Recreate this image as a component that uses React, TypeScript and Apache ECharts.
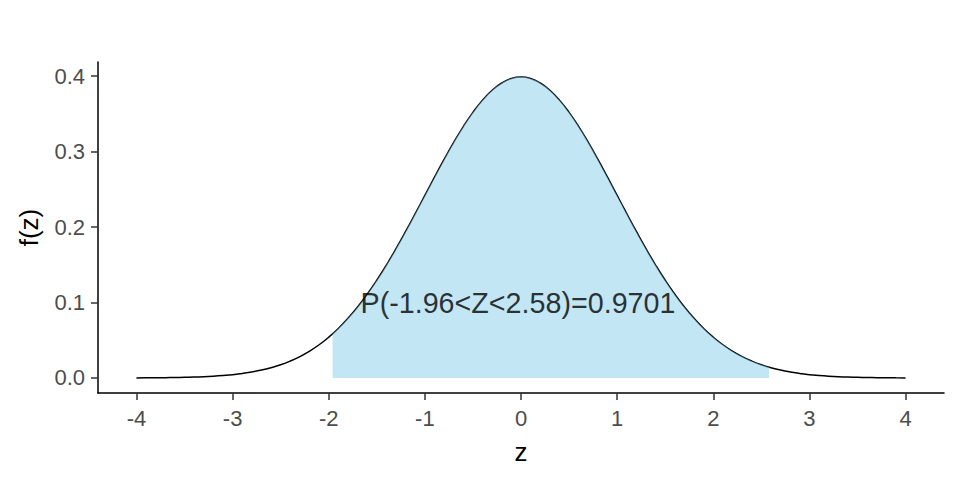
import React, { useEffect, useRef } from "react";
import * as echarts from "echarts";

// Density curve f(z) read at z = -4, -3.9, ..., 4
const zValues: number[] = [
  -4, -3.9, -3.8, -3.7, -3.6, -3.5, -3.4, -3.3, -3.2, -3.1,
  -3, -2.9, -2.8, -2.7, -2.6, -2.5, -2.4, -2.3, -2.2, -2.1,
  -2, -1.9, -1.8, -1.7, -1.6, -1.5, -1.4, -1.3, -1.2, -1.1,
  -1, -0.9, -0.8, -0.7, -0.6, -0.5, -0.4, -0.3, -0.2, -0.1,
  0, 0.1, 0.2, 0.3, 0.4, 0.5, 0.6, 0.7, 0.8, 0.9,
  1, 1.1, 1.2, 1.3, 1.4, 1.5, 1.6, 1.7, 1.8, 1.9,
  2, 2.1, 2.2, 2.3, 2.4, 2.5, 2.6, 2.7, 2.8, 2.9,
  3, 3.1, 3.2, 3.3, 3.4, 3.5, 3.6, 3.7, 3.8, 3.9, 4,
];
const fValues: number[] = [
  0.0001, 0.0002, 0.0003, 0.0004, 0.0006, 0.0009, 0.0012, 0.0017, 0.0024, 0.0033,
  0.0044, 0.006, 0.0079, 0.0104, 0.0136, 0.0175, 0.0224, 0.0283, 0.0355, 0.044,
  0.054, 0.0656, 0.079, 0.094, 0.1109, 0.1295, 0.1497, 0.1714, 0.1942, 0.2179,
  0.242, 0.2661, 0.2897, 0.3123, 0.3332, 0.3521, 0.3683, 0.3814, 0.391, 0.397,
  0.3989, 0.397, 0.391, 0.3814, 0.3683, 0.3521, 0.3332, 0.3123, 0.2897, 0.2661,
  0.242, 0.2179, 0.1942, 0.1714, 0.1497, 0.1295, 0.1109, 0.094, 0.079, 0.0656,
  0.054, 0.044, 0.0355, 0.0283, 0.0224, 0.0175, 0.0136, 0.0104, 0.0079, 0.006,
  0.0044, 0.0033, 0.0024, 0.0017, 0.0012, 0.0009, 0.0006, 0.0004, 0.0003, 0.0002, 0.0001,
];

// Shaded region bounds and their densities
const lowerZ = -1.96;
const upperZ = 2.58;
const fLower = 0.0584;
const fUpper = 0.0143;

const xTicks: number[] = [-4, -3, -2, -1, 0, 1, 2, 3, 4];
const yTicks: number[] = [0, 0.1, 0.2, 0.3, 0.4];

const annotationText = "P(-1.96<Z<2.58)=0.9701";
const annotationPos: [number, number] = [0, 0.1];

const FONT = "'Liberation Sans', Arial, sans-serif";

export default function App() {
  const ref = useRef<HTMLDivElement>(null);
  useEffect(() => {
    if (!ref.current) return;
    const chart = echarts.init(ref.current, undefined, { renderer: "svg" });
    const curve = zValues.map((z, i) => [z, fValues[i]]);
    const shade: number[][] = [[lowerZ, fLower]];
    zValues.forEach((z, i) => {
      if (z > lowerZ && z < upperZ) shade.push([z, fValues[i]]);
    });
    shade.push([upperZ, fUpper]);

    chart.setOption({
      animation: false,
      backgroundColor: "#ffffff",
      grid: { left: 86, right: 8, top: 54, bottom: 79, containLabel: false },
      xAxis: {
        type: "value",
        min: -4.4,
        max: 4.4,
        name: "z",
        nameLocation: "middle",
        nameGap: 46,
        nameTextStyle: { color: "#000", fontSize: 26, fontFamily: FONT },
        splitLine: { show: false },
        axisLine: { show: true, onZero: false, lineStyle: { color: "#000", width: 1.5 } },
        axisTick: { show: true, length: 7, customValues: xTicks, lineStyle: { color: "#333", width: 1.5 } },
        axisLabel: {
          customValues: xTicks,
          color: "#4D4D4D",
          fontSize: 22,
          fontFamily: FONT,
          margin: 14,
          formatter: (v: number) => String(v),
        },
      },
      yAxis: {
        type: "value",
        min: -0.01995,
        max: 0.41885,
        name: "f(z)",
        nameLocation: "middle",
        nameGap: 56,
        nameTextStyle: { color: "#000", fontSize: 26, fontFamily: FONT },
        splitLine: { show: false },
        axisLine: { show: true, onZero: false, lineStyle: { color: "#000", width: 1.5 } },
        axisTick: { show: true, length: 7, customValues: yTicks, lineStyle: { color: "#333", width: 1.5 } },
        axisLabel: {
          customValues: yTicks,
          color: "#4D4D4D",
          fontSize: 22,
          fontFamily: FONT,
          margin: 13,
          formatter: (v: number) => v.toFixed(1),
        },
      },
      series: [
        {
          type: "line",
          data: curve,
          showSymbol: false,
          symbol: "none",
          smooth: true,
          lineStyle: { color: "#000", width: 1.5 },
          z: 2,
        },
        {
          type: "line",
          data: shade,
          showSymbol: false,
          symbol: "none",
          smooth: true,
          lineStyle: { width: 0 },
          areaStyle: { color: "rgb(135,206,235)", opacity: 0.5, origin: 0 },
          z: 3,
        },
        {
          type: "scatter",
          data: [annotationPos],
          symbolSize: 0,
          z: 4,
          label: {
            show: true,
            position: "inside",
            offset: [-3, 0],
            formatter: annotationText,
            color: "#000",
            fontSize: 28.7,
            fontFamily: FONT,
          },
        },
      ],
    });
    return () => chart.dispose();
  }, []);
  return <div ref={ref} style={{ width: 944, height: 464 }} />;
}
